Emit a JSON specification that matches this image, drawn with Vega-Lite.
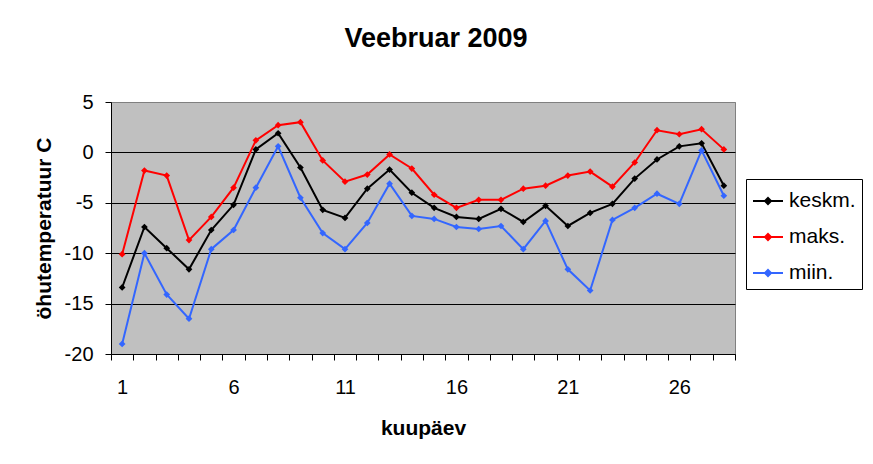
{
  "$schema": "https://vega.github.io/schema/vega-lite/v6.json",
  "autosize": "none",
  "width": 624,
  "height": 252,
  "padding": {"left": 111, "top": 102, "right": 138, "bottom": 110},
  "background": "white",
  "title": {
    "text": "Veebruar 2009",
    "font": "Liberation Sans",
    "fontSize": 27,
    "fontWeight": "bold",
    "color": "black",
    "anchor": "middle",
    "offset": 39,
    "dx": 13
  },
  "config": {
    "view": {"fill": "#C0C0C0", "stroke": "#808080", "strokeWidth": 1},
    "font": "Liberation Sans"
  },
  "data": {
    "values": [
      {"day": 1, "series": "keskm.", "t": -13.4},
      {"day": 2, "series": "keskm.", "t": -7.4},
      {"day": 3, "series": "keskm.", "t": -9.5},
      {"day": 4, "series": "keskm.", "t": -11.6},
      {"day": 5, "series": "keskm.", "t": -7.7},
      {"day": 6, "series": "keskm.", "t": -5.2},
      {"day": 7, "series": "keskm.", "t": 0.3},
      {"day": 8, "series": "keskm.", "t": 1.9},
      {"day": 9, "series": "keskm.", "t": -1.5},
      {"day": 10, "series": "keskm.", "t": -5.7},
      {"day": 11, "series": "keskm.", "t": -6.5},
      {"day": 12, "series": "keskm.", "t": -3.6},
      {"day": 13, "series": "keskm.", "t": -1.7},
      {"day": 14, "series": "keskm.", "t": -4.0},
      {"day": 15, "series": "keskm.", "t": -5.5},
      {"day": 16, "series": "keskm.", "t": -6.4},
      {"day": 17, "series": "keskm.", "t": -6.6},
      {"day": 18, "series": "keskm.", "t": -5.6},
      {"day": 19, "series": "keskm.", "t": -6.9},
      {"day": 20, "series": "keskm.", "t": -5.3},
      {"day": 21, "series": "keskm.", "t": -7.3},
      {"day": 22, "series": "keskm.", "t": -6.0},
      {"day": 23, "series": "keskm.", "t": -5.1},
      {"day": 24, "series": "keskm.", "t": -2.6},
      {"day": 25, "series": "keskm.", "t": -0.7},
      {"day": 26, "series": "keskm.", "t": 0.6},
      {"day": 27, "series": "keskm.", "t": 0.9},
      {"day": 28, "series": "keskm.", "t": -3.3},
      {"day": 1, "series": "maks.", "t": -10.1},
      {"day": 2, "series": "maks.", "t": -1.8},
      {"day": 3, "series": "maks.", "t": -2.3},
      {"day": 4, "series": "maks.", "t": -8.7},
      {"day": 5, "series": "maks.", "t": -6.4},
      {"day": 6, "series": "maks.", "t": -3.5},
      {"day": 7, "series": "maks.", "t": 1.2},
      {"day": 8, "series": "maks.", "t": 2.7},
      {"day": 9, "series": "maks.", "t": 3.0},
      {"day": 10, "series": "maks.", "t": -0.8},
      {"day": 11, "series": "maks.", "t": -2.9},
      {"day": 12, "series": "maks.", "t": -2.2},
      {"day": 13, "series": "maks.", "t": -0.2},
      {"day": 14, "series": "maks.", "t": -1.6},
      {"day": 15, "series": "maks.", "t": -4.2},
      {"day": 16, "series": "maks.", "t": -5.5},
      {"day": 17, "series": "maks.", "t": -4.7},
      {"day": 18, "series": "maks.", "t": -4.7},
      {"day": 19, "series": "maks.", "t": -3.6},
      {"day": 20, "series": "maks.", "t": -3.3},
      {"day": 21, "series": "maks.", "t": -2.3},
      {"day": 22, "series": "maks.", "t": -1.9},
      {"day": 23, "series": "maks.", "t": -3.4},
      {"day": 24, "series": "maks.", "t": -1.0},
      {"day": 25, "series": "maks.", "t": 2.2},
      {"day": 26, "series": "maks.", "t": 1.8},
      {"day": 27, "series": "maks.", "t": 2.3},
      {"day": 28, "series": "maks.", "t": 0.3},
      {"day": 1, "series": "miin.", "t": -19.0},
      {"day": 2, "series": "miin.", "t": -10.0},
      {"day": 3, "series": "miin.", "t": -14.1},
      {"day": 4, "series": "miin.", "t": -16.5},
      {"day": 5, "series": "miin.", "t": -9.6},
      {"day": 6, "series": "miin.", "t": -7.7},
      {"day": 7, "series": "miin.", "t": -3.5},
      {"day": 8, "series": "miin.", "t": 0.6},
      {"day": 9, "series": "miin.", "t": -4.5},
      {"day": 10, "series": "miin.", "t": -8.0},
      {"day": 11, "series": "miin.", "t": -9.6},
      {"day": 12, "series": "miin.", "t": -7.0},
      {"day": 13, "series": "miin.", "t": -3.1},
      {"day": 14, "series": "miin.", "t": -6.3},
      {"day": 15, "series": "miin.", "t": -6.6},
      {"day": 16, "series": "miin.", "t": -7.4},
      {"day": 17, "series": "miin.", "t": -7.6},
      {"day": 18, "series": "miin.", "t": -7.3},
      {"day": 19, "series": "miin.", "t": -9.6},
      {"day": 20, "series": "miin.", "t": -6.8},
      {"day": 21, "series": "miin.", "t": -11.6},
      {"day": 22, "series": "miin.", "t": -13.7},
      {"day": 23, "series": "miin.", "t": -6.7},
      {"day": 24, "series": "miin.", "t": -5.5},
      {"day": 25, "series": "miin.", "t": -4.1},
      {"day": 26, "series": "miin.", "t": -5.1},
      {"day": 27, "series": "miin.", "t": 0.2},
      {"day": 28, "series": "miin.", "t": -4.3}
    ]
  },
  "mark": {
    "type": "line",
    "strokeWidth": 2,
    "point": {"shape": "diamond", "size": 45, "filled": true}
  },
  "encoding": {
    "x": {
      "field": "day",
      "type": "ordinal",
      "scale": {"type": "band", "paddingInner": 0, "paddingOuter": 0},
      "axis": {
        "title": "kuupäev",
        "titleFont": "Liberation Sans",
        "titleFontSize": 21,
        "titleFontWeight": "bold",
        "titleColor": "black",
        "titlePadding": 20,
        "labelAngle": 0,
        "labelFontSize": 20,
        "labelColor": "black",
        "labelPadding": 17,
        "labelExpr": "(datum.value - 1) % 5 === 0 ? datum.label : ''",
        "tickBand": "extent",
        "tickSize": 6,
        "tickColor": "black",
        "domainColor": "black",
        "grid": false
      }
    },
    "y": {
      "field": "t",
      "type": "quantitative",
      "scale": {"domain": [-20, 5], "nice": false, "zero": false},
      "axis": {
        "title": "öhutemperatuur C",
        "titleFont": "Liberation Sans",
        "titleFontSize": 21,
        "titleFontWeight": "bold",
        "titleColor": "black",
        "titlePadding": 10,
        "values": [-20, -15, -10, -5, 0, 5],
        "labelExpr": "replace(datum.label, '\u2212', '-')",
        "labelFontSize": 20,
        "labelColor": "black",
        "labelPadding": 12,
        "tickSize": 6,
        "tickColor": "black",
        "domainColor": "black",
        "grid": true,
        "gridColor": {"condition": {"test": "datum.value === 5", "value": "#808080"}, "value": "black"},
        "gridWidth": 1
      }
    },
    "color": {
      "field": "series",
      "type": "nominal",
      "sort": ["keskm.", "maks.", "miin."],
      "scale": {"domain": ["keskm.", "maks.", "miin."], "range": ["#000000", "#FF0000", "#3366FF"]},
      "legend": {
        "title": null,
        "orient": "none",
        "legendX": 635,
        "legendY": 77,
        "fillColor": "white",
        "strokeColor": "black",
        "padding": 6,
        "labelFontSize": 21,
        "labelColor": "black",
        "labelOffset": 5,
        "rowPadding": 10,
        "symbolType": "M-1,0H1M0,-0.2L0.2,0L0,0.2L-0.2,0Z",
        "symbolSize": 900,
        "symbolStrokeWidth": 2
      }
    }
  }
}
